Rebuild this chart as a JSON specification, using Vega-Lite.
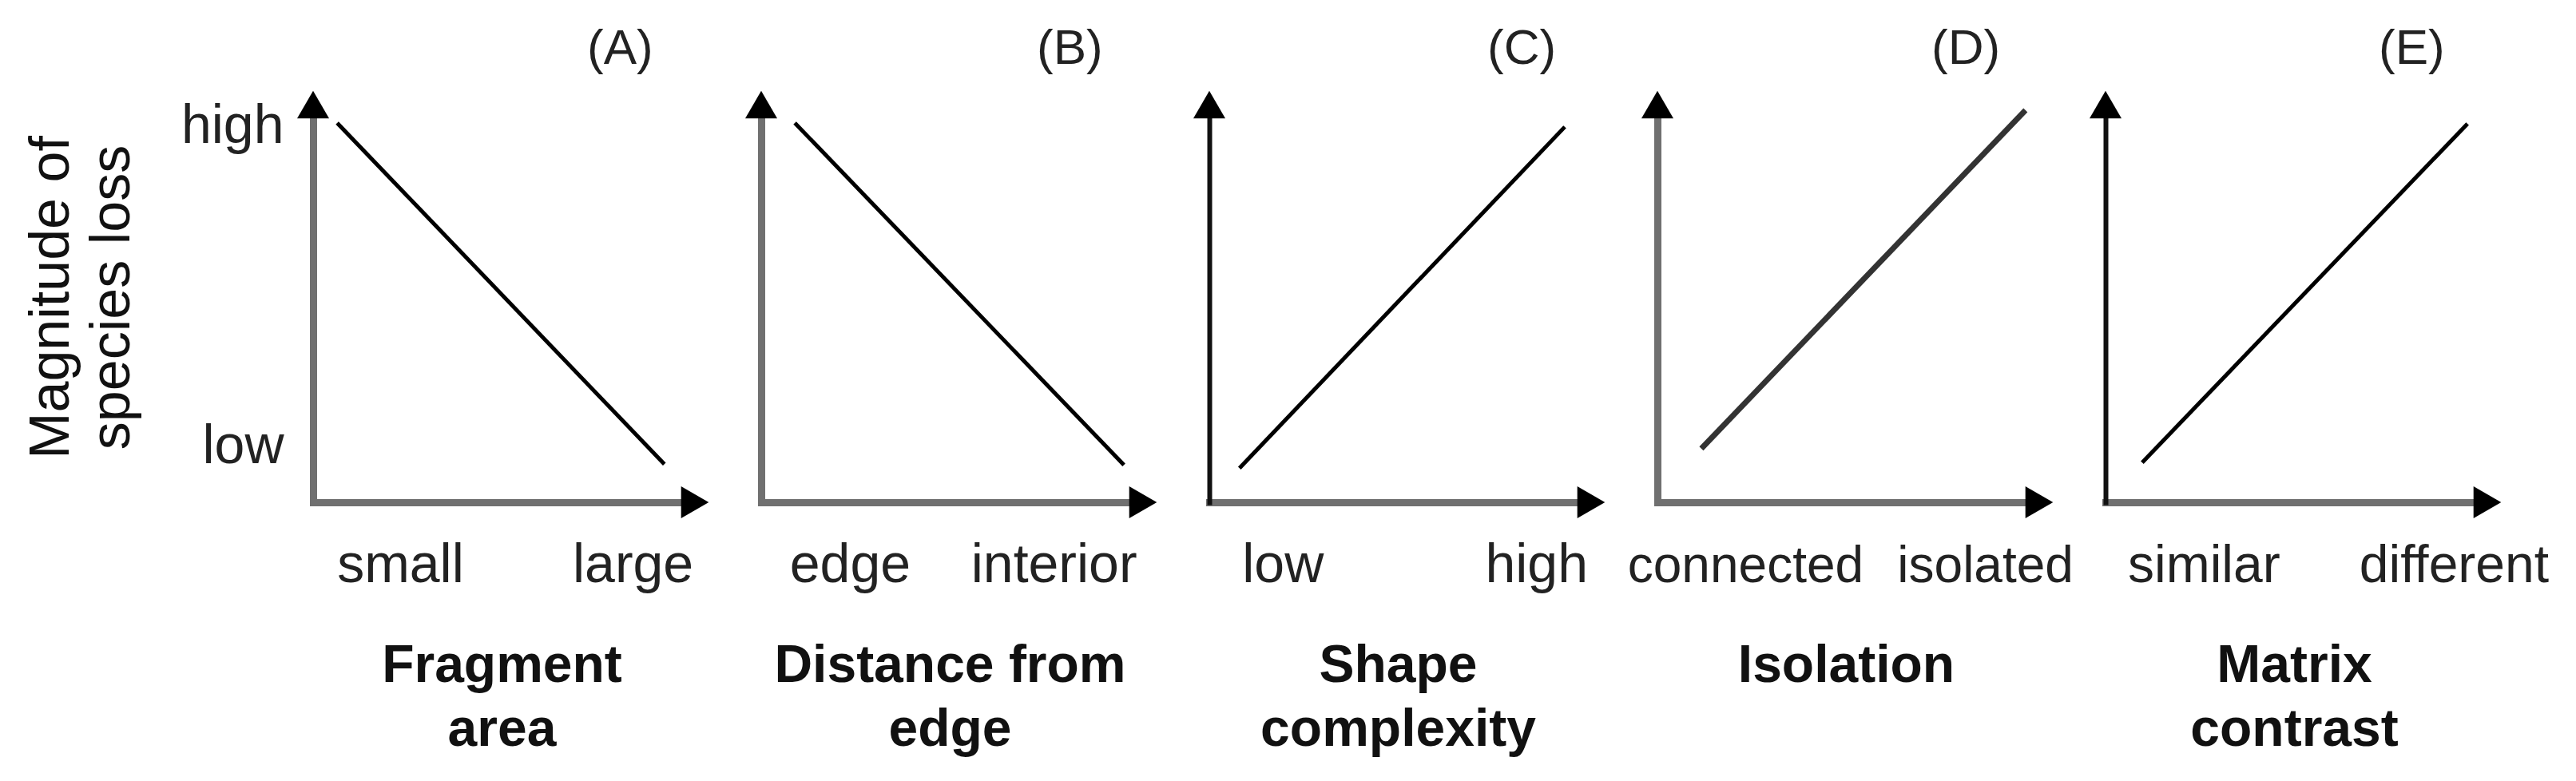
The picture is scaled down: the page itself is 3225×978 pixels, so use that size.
{
  "$schema": "https://vega.github.io/schema/vega-lite/v6.json",
  "background": "white",
  "autosize": {"type": "pad"},
  "padding": {"left": 29, "top": 29, "right": 5, "bottom": 5},
  "bounds": "flush",
  "spacing": 83,
  "config": {
    "view": {"stroke": null},
    "font": "Liberation Sans",
    "axis": {
      "grid": false, "ticks": false, "labelFont": "Liberation Sans", "titleFont": "Liberation Sans",
      "labelColor": "#222", "titleColor": "#111", "labelFontSize": 68, "labelOverlap": false,
      "labelFlush": false, "labelBound": false, "domainCap": "square", "labelLimit": 0, "titleLimit": 0
    },
    "axisX": {
      "domainColor": "#707070", "domainWidth": 9, "labelPadding": 99, "labelBaseline": "alphabetic",
      "titleFontSize": 66, "titleFontWeight": "bold", "titleLineHeight": 80, "titleBaseline": "alphabetic",
      "titleY": 224, "titleX": 236, "titleAlign": "center"
    },
    "axisY": {
      "domainColor": "#707070", "domainWidth": 9, "labelPadding": 37, "labelBaseline": "alphabetic",
      "titleFontSize": 70, "titleFontWeight": "normal", "titleLineHeight": 76, "titleBaseline": "alphabetic",
      "titleX": -307, "titleY": 241, "titleAngle": -90, "titleAlign": "center"
    },
    "title": {"anchor": "start", "frame": "group", "offset": 21, "baseline": "alphabetic", "fontSize": 62, "fontWeight": "normal", "color": "#222", "font": "Liberation Sans"}
  },
  "datasets": {
    "lines": [
      {"panel": "A", "x": 6.3, "y": 95.4}, {"panel": "A", "x": 92.0, "y": 9.6},
      {"panel": "B", "x": 8.8, "y": 95.4}, {"panel": "B", "x": 95.0, "y": 9.4},
      {"panel": "C", "x": 7.9, "y": 8.6}, {"panel": "C", "x": 93.1, "y": 94.4},
      {"panel": "D", "x": 11.5, "y": 13.5}, {"panel": "D", "x": 96.4, "y": 98.6},
      {"panel": "E", "x": 9.6, "y": 10.0}, {"panel": "E", "x": 94.8, "y": 95.2}
    ],
    "one": [{}]
  },
  "hconcat": [
    {
      "width": 478, "height": 498,
      "title": {"text": "(A)", "dx": 343},
      "layer": [
        {
          "data": {"name": "lines"},
          "transform": [{"filter": "datum.panel === 'A'"}],
          "mark": {"type": "line", "color": "black", "strokeWidth": 5},
          "encoding": {
            "x": {"field": "x", "type": "quantitative", "scale": {"domain": [0, 100], "nice": false},
              "axis": {"values": [22.8, 83.7], "labelExpr": "datum.value < 50 ? 'small' : 'large'", "title": ["Fragment", "area"]}},
            "y": {"field": "y", "type": "quantitative", "scale": {"domain": [0, 100], "nice": false},
              "axis": {"values": [10.0, 90.4], "labelExpr": "datum.value > 50 ? 'high' : 'low'", "title": ["Magnitude of", "species loss"]}}
          }
        },
        {
          "data": {"name": "one"},
          "mark": {"type": "point", "shape": "triangle-up", "filled": true, "size": 1600, "color": "black", "opacity": 1},
          "encoding": {"x": {"datum": 0, "type": "quantitative"}, "y": {"datum": 100, "type": "quantitative"}}
        },
        {
          "data": {"name": "one"},
          "mark": {"type": "point", "shape": "triangle-right", "filled": true, "size": 1600, "color": "black", "opacity": 1},
          "encoding": {"x": {"datum": 100, "type": "quantitative"}, "y": {"datum": 0, "type": "quantitative"}}
        }
      ]
    },
    {
      "width": 478, "height": 498,
      "title": {"text": "(B)", "dx": 345},
      "layer": [
        {
          "data": {"name": "lines"},
          "transform": [{"filter": "datum.panel === 'B'"}],
          "mark": {"type": "line", "color": "black", "strokeWidth": 5},
          "encoding": {
            "x": {"field": "x", "type": "quantitative", "scale": {"domain": [0, 100], "nice": false},
              "axis": {"values": [23.2, 76.6], "labelExpr": "datum.value < 50 ? 'edge' : 'interior'", "title": ["Distance from", "edge"]}},
            "y": {"field": "y", "type": "quantitative", "scale": {"domain": [0, 100], "nice": false},
              "axis": {"labels": false, "title": null}}
          }
        },
        {
          "data": {"name": "one"},
          "mark": {"type": "point", "shape": "triangle-up", "filled": true, "size": 1600, "color": "black", "opacity": 1},
          "encoding": {"x": {"datum": 0, "type": "quantitative"}, "y": {"datum": 100, "type": "quantitative"}}
        },
        {
          "data": {"name": "one"},
          "mark": {"type": "point", "shape": "triangle-right", "filled": true, "size": 1600, "color": "black", "opacity": 1},
          "encoding": {"x": {"datum": 100, "type": "quantitative"}, "y": {"datum": 0, "type": "quantitative"}}
        }
      ]
    },
    {
      "width": 478, "height": 498,
      "title": {"text": "(C)", "dx": 348},
      "layer": [
        {
          "data": {"name": "lines"},
          "transform": [{"filter": "datum.panel === 'C'"}],
          "mark": {"type": "line", "color": "black", "strokeWidth": 5},
          "encoding": {
            "x": {"field": "x", "type": "quantitative", "scale": {"domain": [0, 100], "nice": false},
              "axis": {"values": [19.2, 85.6], "labelExpr": "datum.value < 50 ? 'low' : 'high'", "title": ["Shape", "complexity"]}},
            "y": {"field": "y", "type": "quantitative", "scale": {"domain": [0, 100], "nice": false},
              "axis": {"labels": false, "title": null, "domainColor": "#111", "domainWidth": 6}}
          }
        },
        {
          "data": {"name": "one"},
          "mark": {"type": "point", "shape": "triangle-up", "filled": true, "size": 1600, "color": "black", "opacity": 1},
          "encoding": {"x": {"datum": 0, "type": "quantitative"}, "y": {"datum": 100, "type": "quantitative"}}
        },
        {
          "data": {"name": "one"},
          "mark": {"type": "point", "shape": "triangle-right", "filled": true, "size": 1600, "color": "black", "opacity": 1},
          "encoding": {"x": {"datum": 100, "type": "quantitative"}, "y": {"datum": 0, "type": "quantitative"}}
        }
      ]
    },
    {
      "width": 478, "height": 498,
      "title": {"text": "(D)", "dx": 343},
      "layer": [
        {
          "data": {"name": "lines"},
          "transform": [{"filter": "datum.panel === 'D'"}],
          "mark": {"type": "line", "color": "#333", "strokeWidth": 7},
          "encoding": {
            "x": {"field": "x", "type": "quantitative", "scale": {"domain": [0, 100], "nice": false},
              "axis": {"values": [23.0, 85.8], "labelExpr": "datum.value < 50 ? 'connected' : 'isolated'", "labelFontSize": 64, "title": "Isolation"}},
            "y": {"field": "y", "type": "quantitative", "scale": {"domain": [0, 100], "nice": false},
              "axis": {"labels": false, "title": null}}
          }
        },
        {
          "data": {"name": "one"},
          "mark": {"type": "point", "shape": "triangle-up", "filled": true, "size": 1600, "color": "black", "opacity": 1},
          "encoding": {"x": {"datum": 0, "type": "quantitative"}, "y": {"datum": 100, "type": "quantitative"}}
        },
        {
          "data": {"name": "one"},
          "mark": {"type": "point", "shape": "triangle-right", "filled": true, "size": 1600, "color": "black", "opacity": 1},
          "encoding": {"x": {"datum": 100, "type": "quantitative"}, "y": {"datum": 0, "type": "quantitative"}}
        }
      ]
    },
    {
      "width": 478, "height": 498,
      "title": {"text": "(E)", "dx": 342},
      "layer": [
        {
          "data": {"name": "lines"},
          "transform": [{"filter": "datum.panel === 'E'"}],
          "mark": {"type": "line", "color": "black", "strokeWidth": 5},
          "encoding": {
            "x": {"field": "x", "type": "quantitative", "scale": {"domain": [0, 100], "nice": false},
              "axis": {"values": [25.7, 91.2], "labelExpr": "datum.value < 50 ? 'similar' : 'different'", "labelFontSize": 66, "title": ["Matrix", "contrast"]}},
            "y": {"field": "y", "type": "quantitative", "scale": {"domain": [0, 100], "nice": false},
              "axis": {"labels": false, "title": null, "domainColor": "#111", "domainWidth": 6}}
          }
        },
        {
          "data": {"name": "one"},
          "mark": {"type": "point", "shape": "triangle-up", "filled": true, "size": 1600, "color": "black", "opacity": 1},
          "encoding": {"x": {"datum": 0, "type": "quantitative"}, "y": {"datum": 100, "type": "quantitative"}}
        },
        {
          "data": {"name": "one"},
          "mark": {"type": "point", "shape": "triangle-right", "filled": true, "size": 1600, "color": "black", "opacity": 1},
          "encoding": {"x": {"datum": 100, "type": "quantitative"}, "y": {"datum": 0, "type": "quantitative"}}
        }
      ]
    }
  ]
}
